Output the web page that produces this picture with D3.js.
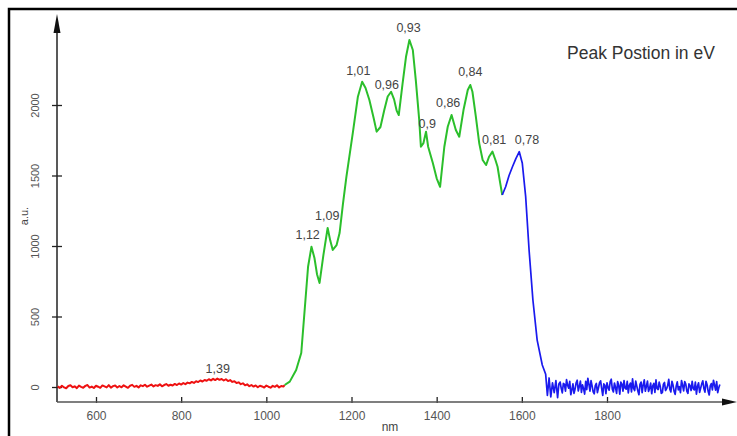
<!DOCTYPE html>
<html>
<head>
<meta charset="utf-8">
<script src="https://cdn.jsdelivr.net/npm/d3@7"></script>
<style>
  body { margin: 0; background: #fff; }
  svg { display: block; font-family: "Liberation Sans", Arial, sans-serif; }
</style>
</head>
<body>
<svg id="drawing_region"></svg>
<script>
// spectrum, [nm, a.u.]
const redSeries = [
  [510,4],[515,-6],[520,9],[525,-3],[530,-9],[535,7],[540,12],[545,-2],[550,5],[555,-8],
  [560,10],[565,1],[570,-5],[575,8],[580,14],[585,-4],[590,3],[595,-7],[600,9],[605,2],
  [610,-6],[615,11],[620,4],[625,-3],[630,13],[635,-5],[640,6],[645,10],[650,-4],[655,7],
  [660,-2],[665,12],[670,3],[675,-6],[680,9],[685,15],[690,1],[695,8],[700,-3],[705,12],
  [710,6],[715,16],[720,2],[725,10],[730,17],[735,4],[740,13],[745,8],[750,19],[755,5],
  [760,14],[765,21],[770,9],[775,16],[780,11],[785,22],[790,14],[795,25],[800,17],[805,28],
  [810,20],[815,31],[820,26],[825,36],[830,29],[835,41],[840,35],[845,46],[850,39],[855,50],
  [860,44],[865,55],[870,47],[875,58],[880,49],[885,60],[890,51],[895,57],[900,46],[905,55],
  [910,42],[915,49],[920,36],[925,41],[930,28],[935,33],[940,20],[945,26],[950,12],[955,19],
  [960,6],[965,14],[970,3],[975,11],[980,-2],[985,9],[990,4],[995,-4],[1000,10],[1005,2],
  [1010,-5],[1015,8],[1020,1],[1025,12],[1030,-3],[1035,7],[1040,3],[1043,14]
];

const greenSeries = [
  [1043,14],[1055,38],[1070,121],[1082,241],[1090,546],[1098,853],[1106,995],[1113,915],
  [1119,800],[1125,738],[1134,936],[1144,1128],[1150,1040],[1156,972],[1165,1007],[1172,1092],
  [1180,1300],[1188,1491],[1203,1801],[1215,2059],[1225,2165],[1233,2121],[1242,2035],
  [1252,1908],[1259,1811],[1268,1844],[1277,1964],[1285,2060],[1293,2094],[1300,2040],
  [1306,1960],[1311,1929],[1320,2154],[1328,2342],[1336,2461],[1344,2390],[1351,2177],
  [1359,1894],[1363,1704],[1369,1730],[1375,1811],[1380,1704],[1391,1589],[1400,1480],
  [1408,1420],[1418,1704],[1426,1846],[1435,1929],[1445,1823],[1453,1775],[1463,1964],
  [1473,2106],[1479,2142],[1484,2094],[1492,1917],[1500,1728],[1508,1610],[1516,1574],
  [1523,1633],[1531,1669],[1538,1610],[1543,1562],[1549,1450],[1554,1362]
];

const blueSeries = [
  [1554,1362],[1562,1420],[1570,1500],[1578,1562],[1586,1620],[1594,1669],[1601,1589],
  [1609,1350],[1617,972],[1626,617],[1636,333],[1648,156],[1656,90],[1660,-60],[1664,64],
  [1668,-70],[1672,30],[1676,-40],[1680,45],[1684,-75],[1687,21],
  [1690,35],[1692.5,-10],[1695,-42],[1697.5,25],[1700,18],[1702.5,-30],[1705,52],[1707.5,12],
  [1710,-8],[1712.5,40],[1715,-55],[1717.5,-20],[1720,22],[1722.5,-45],[1725,-15],[1727.5,30],
  [1730,48],[1732.5,-28],[1735,5],[1737.5,42],[1740,-38],[1742.5,15],[1745,-12],[1747.5,-50],
  [1750,40],[1752.5,-18],[1755,62],[1757.5,20],[1760,-30],[1762.5,45],[1765,8],[1767.5,-35],
  [1770,-48],[1772.5,10],[1775,25],[1777.5,-40],[1780,-5],[1782.5,30],[1785,44],[1787.5,-12],
  [1790,-60],[1792.5,22],[1795,12],[1797.5,-48],[1800,30],[1802.5,-5],[1805,-22],[1807.5,38],
  [1810,55],[1812.5,-15],[1815,-35],[1817.5,28],[1820,-4],[1822.5,-45],[1825,38],[1827.5,10],
  [1830,-50],[1832.5,35],[1835,20],[1837.5,-30],[1840,45],[1842.5,-8],[1845,-15],[1847.5,40],
  [1850,-42],[1852.5,12],[1855,28],[1857.5,-35],[1860,58],[1862.5,-10],[1865,-25],[1867.5,42],
  [1870,6],[1872.5,-28],[1875,-55],[1877.5,18],[1880,35],[1882.5,-40],[1885,15],[1887.5,50],
  [1890,-30],[1892.5,5],[1895,42],[1897.5,-32],[1900,-10],[1902.5,28],[1905,-48],[1907.5,8],
  [1910,26],[1912.5,-38],[1915,50],[1917.5,-12],[1920,-18],[1922.5,35],[1925,4],[1927.5,-45],
  [1930,-40],[1932.5,20],[1935,32],[1937.5,-25],[1940,-12],[1942.5,10],[1945,54],[1947.5,-15],
  [1950,-35],[1952.5,40],[1955,14],[1957.5,-30],[1960,-52],[1962.5,5],[1965,36],[1967.5,-20],
  [1970,2],[1972.5,-40],[1975,46],[1977.5,12],[1980,-28],[1982.5,38],[1985,20],[1987.5,-30],
  [1990,-45],[1992.5,22],[1995,10],[1997.5,-25],[2000,40],[2002.5,-12],[2005,-20],[2007.5,35],
  [2010,-50],[2012.5,5],[2015,30],[2017.5,-38],[2020,-8],[2022.5,22],[2025,44],[2027.5,-10],
  [2030,-36],[2032.5,40],[2035,16],[2037.5,-30],[2040,-56],[2042.5,8],[2045,24],[2047.5,-20],
  [2050,48],[2052.5,15],[2055,-22],[2057.5,38],[2060,-40],[2062.5,-5],[2065,18]
];

// peak energies, anchored in data units (label centre, baseline)
const peakLabels = [
  {text:'1,39', nm:886,  val:99},
  {text:'1,12', nm:1097, val:1050},
  {text:'1,09', nm:1143, val:1184},
  {text:'1,01', nm:1216, val:2213},
  {text:'0,96', nm:1283, val:2113},
  {text:'0,93', nm:1334, val:2520},
  {text:'0,9',  nm:1378, val:1837},
  {text:'0,86', nm:1427, val:1986},
  {text:'0,84', nm:1479, val:2206},
  {text:'0,81', nm:1535, val:1723},
  {text:'0,78', nm:1612, val:1723}
];

const xTicks = [600, 800, 1000, 1200, 1400, 1600, 1800];
const yTicks = [0, 500, 1000, 1500, 2000];

class SpectrumChart {
    constructor (config){
        this.config = config;
        this.init();
    }

    init() {
        let self = this;
        let c = self.config;

        self.svg = d3.select(c.parent)
            .attr('width', c.width)
            .attr('height', c.height);

        // frame
        self.svg.append('rect')
            .attr('x', 9).attr('y', 9)
            .attr('width', 760).attr('height', 460)
            .attr('fill', 'none')
            .attr('stroke', '#000')
            .attr('stroke-width', 2.5);

        self.xscale = d3.scaleLinear()
            .domain([600, 1800])
            .range([96, 607]);

        self.yscale = d3.scaleLinear()
            .domain([0, 2000])
            .range([387, 105]);

        self.xaxis = d3.axisBottom(self.xscale)
            .tickValues(xTicks)
            .tickFormat(d3.format('d'))
            .tickSize(5);

        self.yaxis = d3.axisLeft(self.yscale)
            .tickValues(yTicks)
            .tickFormat(d3.format('d'))
            .tickSize(5);

        self.line = d3.line()
            .x(d => self.xscale(d[0]))
            .y(d => self.yscale(d[1]));
    }

    update() {
        let self = this;
        let c = self.config;

        // x axis
        let xg = self.svg.append('g')
            .attr('transform', `translate(0, ${c.axisY})`)
            .call(self.xaxis);
        xg.select('.domain').remove();
        xg.selectAll('.tick line')
            .attr('y1', -5).attr('y2', 1)
            .attr('stroke', '#222').attr('stroke-width', 1.3);
        xg.selectAll('.tick text')
            .attr('y', 9)
            .attr('fill', '#555')
            .style('font-size', '12px')
            .style('font-family', '"Liberation Sans", Arial, sans-serif');

        // y axis
        let yg = self.svg.append('g')
            .attr('transform', `translate(${c.axisX}, 0)`)
            .call(self.yaxis);
        yg.select('.domain').remove();
        yg.selectAll('.tick line')
            .attr('x1', 5).attr('x2', -5)
            .attr('stroke', '#222').attr('stroke-width', 1.3);
        yg.selectAll('.tick text')
            .attr('x', 0).attr('dy', '0.35em')
            .attr('text-anchor', 'middle')
            .attr('transform', 'translate(-22,0) rotate(-90)')
            .attr('fill', '#555')
            .style('font-size', '11px')
            .style('font-family', '"Liberation Sans", Arial, sans-serif');

        // axis lines with arrow heads
        self.svg.append('line')
            .attr('x1', c.axisX).attr('y1', c.axisY)
            .attr('x2', c.axisX).attr('y2', 24)
            .attr('stroke', '#222').attr('stroke-width', 1.5);
        self.svg.append('path')
            .attr('d', `M${c.axisX},14 L${c.axisX - 3.5},33 L${c.axisX + 3.5},33 Z`)
            .attr('fill', '#111');

        self.svg.append('line')
            .attr('x1', c.axisX).attr('y1', c.axisY)
            .attr('x2', 728).attr('y2', c.axisY)
            .attr('stroke', '#555').attr('stroke-width', 1.5);
        self.svg.append('path')
            .attr('d', `M737,${c.axisY} L722,${c.axisY - 3.5} L722,${c.axisY + 3.5} Z`)
            .attr('fill', '#111');

        self.svg.append('text')
            .attr('x', 390).attr('y', 431)
            .attr('text-anchor', 'middle')
            .attr('fill', '#444')
            .style('font-size', '12px')
            .text('nm');

        self.svg.append('text')
            .attr('transform', 'translate(24,216) rotate(-90)')
            .attr('dy', '0.35em')
            .attr('text-anchor', 'middle')
            .attr('fill', '#444')
            .style('font-size', '11px')
            .text('a.u.');

        self.render();
    }

    render() {
        let self = this;

        let series = [
            {data: redSeries, color: '#ee1111', width: 2},
            {data: greenSeries, color: '#2bbf2b', width: 2},
            {data: blueSeries, color: '#1a1aee', width: 1.7}
        ];

        self.svg.append('g').selectAll('path')
            .data(series)
            .enter()
            .append('path')
            .attr('d', d => self.line(d.data))
            .attr('fill', 'none')
            .attr('stroke', d => d.color)
            .attr('stroke-width', d => d.width)
            .attr('stroke-linejoin', 'round');

        self.svg.append('g').selectAll('text')
            .data(peakLabels)
            .enter()
            .append('text')
            .attr('x', d => self.xscale(d.nm))
            .attr('y', d => self.yscale(d.val))
            .attr('text-anchor', 'middle')
            .attr('fill', '#444')
            .style('font-size', '12.5px')
            .text(d => d.text);

        self.svg.append('text')
            .attr('x', 567).attr('y', 59)
            .attr('fill', '#333')
            .style('font-size', '17.5px')
            .text('Peak Postion in eV');
    }
}

let config = {
    parent: '#drawing_region',
    width: 737,
    height: 436,
    axisX: 57,
    axisY: 402
};

const chart = new SpectrumChart(config);
chart.update();
</script>
</body>
</html>
